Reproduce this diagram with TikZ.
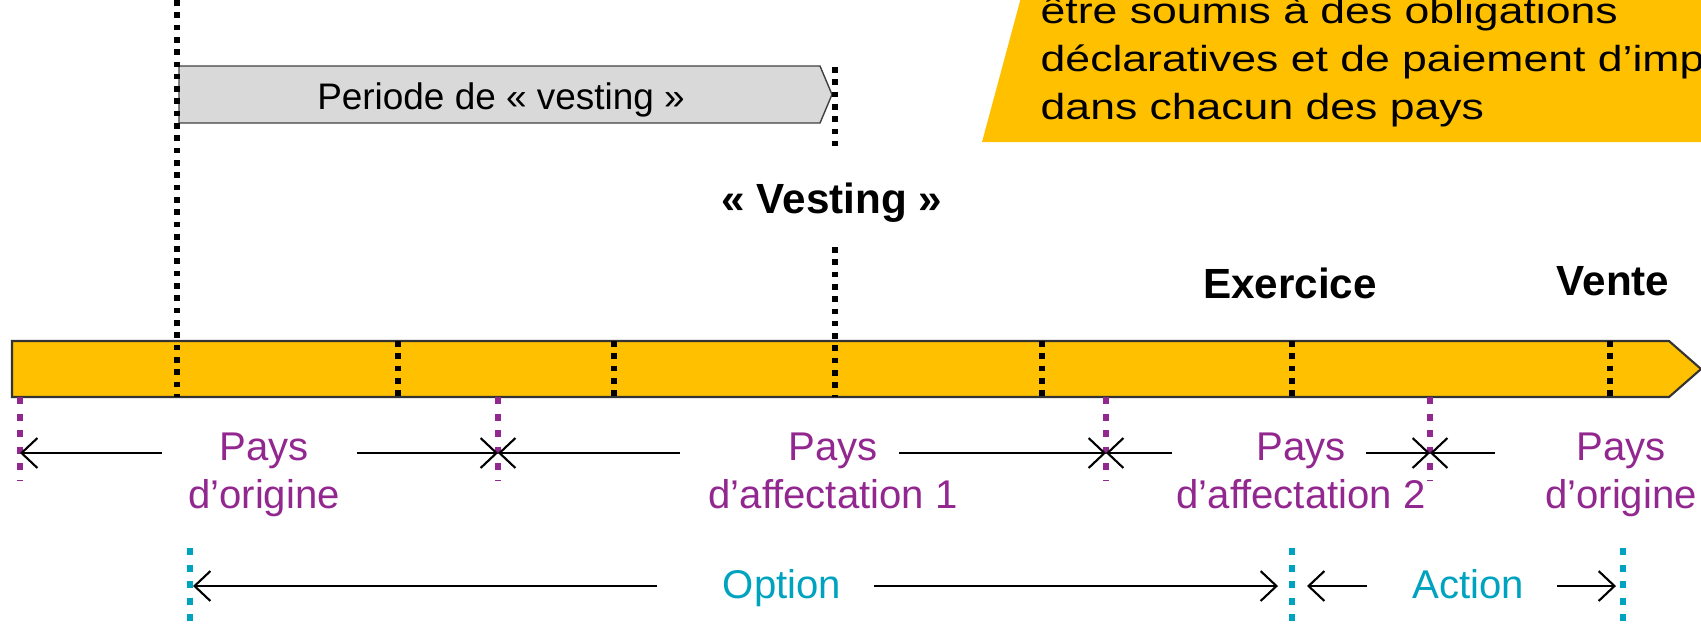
\documentclass[tikz,border=0pt]{standalone}
\usepackage{fontspec}
\setmainfont{Liberation Sans}
\newfontfamily\calloutfont[FakeStretch=1.23]{Liberation Sans}
\usetikzlibrary{arrows.meta}
\definecolor{gold}{RGB}{255,192,0}
\definecolor{paysviolet}{RGB}{146,39,143}
\definecolor{optcyan}{RGB}{0,163,191}
\definecolor{greybox}{RGB}{217,217,217}

\begin{document}
\begin{tikzpicture}[x=0.01cm,y=-0.01cm,
	tick/.style={line width=1.6pt,dash pattern=on 1.6pt off 1.9pt},
	paystick/.style={paysviolet,line width=1.85pt,dash pattern=on 2pt off 2.7pt},
	opttick/.style={optcyan,line width=1.85pt,dash pattern=on 2pt off 2.7pt},
	span/.style={-{Straight Barb[length=4.5pt,width=8.5pt]},line width=.6pt},
	pays/.style={paysviolet,align=center,anchor=base,font=\fontsize{11.4}{13.4}\selectfont},
	evt/.style={anchor=base,font=\fontsize{12}{14}\selectfont\bfseries}]
	\useasboundingbox (0,0) rectangle (1701,629);
	\clip (0,0) rectangle (1701,629);
	
	% draw callout
	\fill[gold] (982,142) -- (1701,142) -- (1701,-10) -- (1023,-10) -- cycle;
	\node[anchor=base west,align=left,inner sep=0pt,font=\calloutfont\fontsize{10.3}{13.6}\selectfont] (note) at (1040,119)
		{être soumis à des obligations\\déclaratives et de paiement d’impôts\\dans chacun des pays};
	
	% draw time bar
	\draw[fill=gold,draw=black!80,line width=.6pt] (12,341) -- (1669,341) -- (1701,369) -- (1669,397) -- (12,397) -- cycle;
	
	% draw vesting period
	\draw[fill=greybox,draw=black!75,line width=.4pt] (179,66) -- (820,66) -- (832,94.5) -- (820,123) -- (179,123) -- cycle;
	\node[anchor=base,font=\fontsize{10.5}{12}\selectfont] (periode) at (501,109) {Periode de « vesting »};
	
	% draw black ticks
	\draw[tick] (177,0) -- (177,397);
	\foreach \x in {398,614,1042,1292,1610}
		\draw[tick] (\x,341) -- (\x,397);
	\draw[tick] (835,67) -- (835,146);
	\draw[tick] (835,247) -- (835,397);
	
	% draw events
	\node[evt] (vesting) at (832,213) {« Vesting »};
	\node[evt] (exercice) at (1290,298) {Exercice};
	\node[evt] (vente) at (1613,295) {Vente};
	
	% draw country ticks and spans
	\foreach \x in {20,498,1106,1430}
		\draw[paystick] (\x,397) -- (\x,480);
	\coordinate (p0) at (20,453);
	\coordinate (p1) at (498,453);
	\coordinate (p2) at (1106,453);
	\coordinate (p3) at (1430,453);
	\coordinate (a1) at (162,453);
	\coordinate (a2) at (357,453);
	\coordinate (a3) at (680,453);
	\coordinate (a4) at (899,453);
	\coordinate (a5) at (1172,453);
	\coordinate (a6) at (1366,453);
	\coordinate (a7) at (1495,453);
	\draw[span] (a1) -- (p0);
	\draw[span] (a2) -- (p1);
	\draw[span] (a3) -- (p1);
	\draw[span] (a4) -- (p2);
	\draw[span] (a5) -- (p2);
	\draw[span] (a6) -- (p3);
	\draw[span] (a7) -- (p3);
	\node[pays] (origine) at (264,508) {Pays\\d’origine};
	\node[pays] (affect1) at (833,508) {Pays\\d’affectation 1};
	\node[pays] (affect2) at (1301,508) {Pays\\d’affectation 2};
	\node[pays] (retour) at (1621,508) {Pays\\d’origine};
	
	% draw option / action ticks and spans
	\foreach \x in {190,1292,1623}
		\draw[opttick] (\x,548) -- (\x,629);
	\coordinate (q0) at (193,586);
	\coordinate (q1) at (1278,586);
	\coordinate (q2) at (1307,586);
	\coordinate (q3) at (1616,586);
	\coordinate (b1) at (657,586);
	\coordinate (b2) at (874,586);
	\coordinate (b3) at (1367,586);
	\coordinate (b4) at (1557,586);
	\draw[span] (b1) -- (q0);
	\draw[span] (b2) -- (q1);
	\draw[span] (b3) -- (q2);
	\draw[span] (b4) -- (q3);
	\node[pays,optcyan] (option) at (782,598) {Option};
	\node[pays,optcyan] (action) at (1468,598) {Action};
\end{tikzpicture}
\end{document}
